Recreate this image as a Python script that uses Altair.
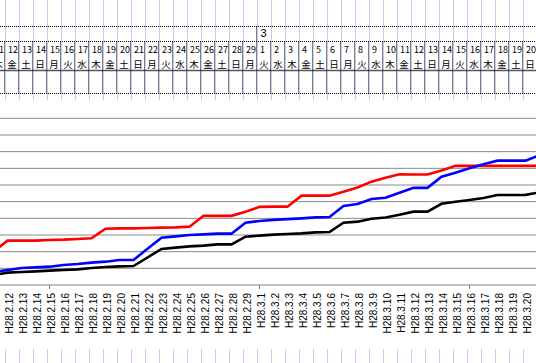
import altair as alt
import pandas as pd

# ---- data -------------------------------------------------------------
idx = list(range(-1, 39))  # -1 = H28.2.11 ... 38 = H28.3.21 (partly off-frame)
red = [19.9, 26.6, 26.6, 26.6, 27.0, 27.2, 27.6, 28.0, 33.8, 34.0,
       34.0, 34.2, 34.4, 34.6, 35.0, 41.5, 41.5, 41.5, 43.9, 46.9,
       47.0, 47.0, 53.6, 53.6, 53.6, 56.0, 58.5, 62.0, 64.4, 66.4,
       66.3, 66.3, 68.7, 71.5, 71.5, 71.5, 71.5, 71.5, 71.5, 71.5]
blue = [7.8, 9.0, 10.2, 10.6, 11.0, 12.0, 12.6, 13.4, 14.0, 15.0,
        15.0, 21.7, 28.4, 29.2, 30.0, 30.4, 30.8, 30.8, 37.4, 38.4,
        39.1, 39.5, 40.0, 40.6, 40.8, 47.4, 48.6, 51.6, 52.3, 55.3,
        58.3, 58.3, 65.0, 67.4, 70.0, 72.4, 74.6, 74.6, 74.6, 77.8]
black = [5.9, 7.4, 7.8, 8.2, 8.6, 9.0, 9.4, 10.2, 10.8, 11.2,
         11.4, 16.5, 21.6, 22.4, 23.2, 23.6, 24.4, 24.4, 29.0, 29.6,
         30.2, 30.6, 31.0, 31.6, 31.8, 37.4, 38.0, 39.8, 40.5, 42.2,
         44.0, 44.0, 48.7, 49.9, 51.0, 52.2, 54.0, 54.0, 54.1, 55.6]

day_idx = list(range(-1, 38))
day_nums = ["11", "12", "13", "14", "15", "16", "17", "18", "19", "20",
            "21", "22", "23", "24", "25", "26", "27", "28", "29",
            "1", "2", "3", "4", "5", "6", "7", "8", "9", "10",
            "11", "12", "13", "14", "15", "16", "17", "18", "19", "20"]
weekdays = ["木", "金", "土", "日", "月", "火", "水", "木", "金", "土",
            "日", "月", "火", "水", "木", "金", "土", "日", "月",
            "火", "水", "木", "金", "土", "日", "月", "火", "水", "木",
            "金", "土", "日", "月", "火", "水", "木", "金", "土", "日"]

label_idx = list(range(0, 38))
x_labels = ["H28.2.%d" % d for d in range(12, 30)] + ["H28.3.%d" % d for d in range(1, 21)]

grid_vals = [10, 20, 30, 40, 50, 60, 70, 80, 90, 100]
tick_idx = [3, 18, 33]
month_idx = [18]
month_text = ["3"]
col_idx = list(range(-1, 40))

# ---- scales -----------------------------------------------------------
W, H = 536, 363
xs = alt.Scale(domain=[-7.5 / 14, (W - 7.5) / 14], nice=False, zero=False)
ys = alt.Scale(domain=[-46.8, 171.0], nice=False, zero=False)

def X(f):
    return alt.X(f, type="quantitative", scale=xs, axis=None)

def Y(f):
    return alt.Y(f, type="quantitative", scale=ys, axis=None)

series_df = pd.DataFrame({"i": idx, "red": red, "blue": blue, "black": black})
days_df = pd.DataFrame({"i": day_idx, "num": day_nums, "wd": weekdays})
labels_df = pd.DataFrame({"i": label_idx, "lab": x_labels})
grid_df = pd.DataFrame({"v": grid_vals})
tick_df = pd.DataFrame({"i": tick_idx, "z": [0] * len(tick_idx)})
month_df = pd.DataFrame({"i": month_idx, "t": month_text})
cols_df = pd.DataFrame({"i": col_idx})
zero_df = pd.DataFrame({"v": [0]})

# spreadsheet cell grid (light blue) above and below the chart object
blue_top = alt.Chart(cols_df).transform_calculate(b="datum.i - 0.143").mark_rule(
    color="#C3CBEE", strokeWidth=1).encode(x=X("b"), y=alt.value(0), y2=alt.value(100))
blue_bot = alt.Chart(cols_df).transform_calculate(b="datum.i - 0.143").mark_rule(
    color="#C3CBEE", strokeWidth=1).encode(x=X("b"), y=alt.value(349), y2=alt.value(363))

# table borders
def hline(y, color="#000000", dash=(1, 1), width=1):
    kw = dict(color=color, strokeWidth=width)
    if dash:
        kw["strokeDash"] = list(dash)
    return alt.Chart(zero_df).mark_rule(**kw).encode(
        x=alt.value(0), x2=alt.value(W), y=alt.value(y))

h1 = hline(26.5)
h2 = hline(41.5)
h3 = hline(93.5)
h4 = hline(70.5, color="#55555F", dash=None, width=1.5)

vdots = alt.Chart(cols_df).transform_calculate(b="datum.i - 0.214").mark_rule(
    color="#000000", strokeWidth=1, strokeDash=[1, 1]).encode(
    x=X("b"), y=alt.value(41.5), y2=alt.value(93.5))
vmonth = alt.Chart(month_df).transform_calculate(b="datum.i - 0.214").mark_rule(
    color="#000000", strokeWidth=1, strokeDash=[1, 1]).encode(
    x=X("b"), y=alt.value(26.5), y2=alt.value(41.5))

month_txt = alt.Chart(month_df).mark_text(
    align="left", baseline="middle", dx=1, fontSize=11, font="Liberation Sans",
    color="#000000").encode(x=X("i"), y=alt.value(34), text="t:N")

num_txt = alt.Chart(days_df).mark_text(
    align="left", baseline="middle", dx=0.5, fontSize=9, font="Noto Sans CJK JP",
    color="#000000").encode(x=X("i"), y=alt.value(50), text="num:N")
wd_txt = alt.Chart(days_df).mark_text(
    align="center", baseline="middle", dx=4.5, fontSize=9.5, font="Noto Sans CJK JP",
    color="#000000").encode(x=X("i"), y=alt.value(65), text="wd:N")

# chart
grid = alt.Chart(grid_df).mark_rule(color="#8A8A8A", strokeWidth=1).encode(
    x=alt.value(0), x2=alt.value(W), y=Y("v"))
axis_line = alt.Chart(zero_df).mark_rule(color="#808080", strokeWidth=1).encode(
    x=alt.value(0), x2=alt.value(W), y=Y("v"))
ticks = alt.Chart(tick_df).mark_rule(color="#808080", strokeWidth=1).encode(
    x=X("i"), y=Y("z"), y2=alt.value(289))

def line(field, color):
    return alt.Chart(series_df).mark_line(
        color=color, strokeWidth=2.6, clip=True, strokeJoin="miter").encode(
        x=X("i"), y=Y(field))

l_red = line("red", "#FF0000")
l_blue = line("blue", "#0000FF")
l_black = line("black", "#000000")

xlab = alt.Chart(labels_df).mark_text(
    angle=270, align="right", baseline="middle", dy=2.5, fontSize=10,
    font="Liberation Sans", color="#000000").encode(
    x=X("i"), y=alt.value(293), text="lab:N")

chart = alt.layer(
    blue_top, blue_bot, h1, h2, h3, h4, vdots, vmonth, month_txt, num_txt, wd_txt,
    grid, axis_line, ticks, l_red, l_blue, l_black, xlab
).properties(
    width=W, height=H, padding=0,
    autosize=alt.AutoSizeParams(type="none"),
    background="#FFFFFF",
).configure_view(stroke=None)

chart.save("out.html", embed_options={"renderer": "svg", "actions": False})
